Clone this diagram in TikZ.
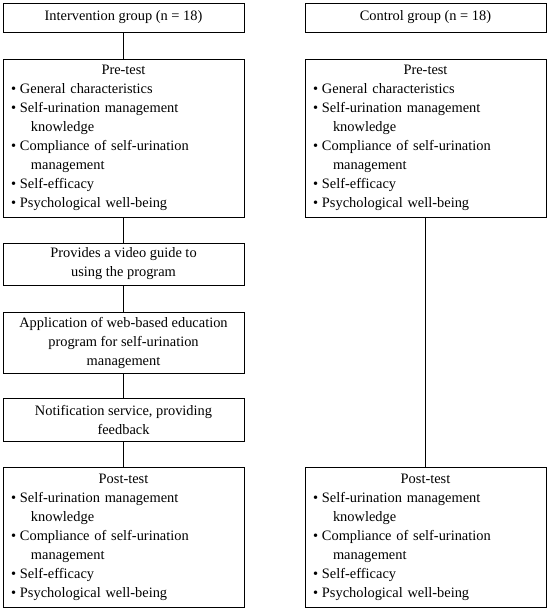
\documentclass[tikz,border=0pt]{standalone}
\usepackage{fontspec}
\setmainfont{Liberation Serif}
\newcommand\myfs{\fontsize{14.4}{19}\selectfont\parindent=0pt\relax}
\newcommand\bl[1]{\makebox[9pt][l]{•}#1}
\newcommand\cont[1]{\hspace*{20pt}#1}
\newcommand\hd[1]{\makebox[225pt]{#1}}
\begin{document}
\begin{tikzpicture}[x=1pt,y=-1pt,
  box/.style={draw, line width=0.8pt, minimum width=241pt, inner sep=0pt, align=center, font=\myfs},
  listbox/.style={box, text width=225pt, align=left},
  conn/.style={draw, line width=0.8pt}]
\useasboundingbox (0,0) rectangle (550,613);
\node[box, minimum height=29pt] (int) at (123.5,17.5) {Intervention group (n = 18)};
\node[box, minimum height=29pt] (ctrl) at (425.5,17.5) {Control group (n = 18)};
\node[listbox, minimum height=158pt] (preL) at (123.5,138) {\hd{Pre-test}\\
\bl{General characteristics}\\
\bl{Self-urination management}\\
\cont{knowledge}\\
\bl{Compliance of self-urination}\\
\cont{management}\\
\bl{Self-efficacy}\\
\bl{Psychological well-being}};
\node[listbox, minimum height=158pt] (preR) at (425.5,138) {\hd{Pre-test}\\
\bl{General characteristics}\\
\bl{Self-urination management}\\
\cont{knowledge}\\
\bl{Compliance of self-urination}\\
\cont{management}\\
\bl{Self-efficacy}\\
\bl{Psychological well-being}};
\node[box, minimum height=42pt] (video) at (123.5,264) {Provides a video guide to\\using the program};
\node[box, minimum height=61pt] (app) at (123.5,342.5) {Application of web-based education\\program for self-urination\\management};
\node[box, minimum height=43pt] (notif) at (123.5,419.5) {Notification service, providing\\feedback};
\node[listbox, minimum height=140pt] (postL) at (123.5,537) {\hd{Post-test}\\
\bl{Self-urination management}\\
\cont{knowledge}\\
\bl{Compliance of self-urination}\\
\cont{management}\\
\bl{Self-efficacy}\\
\bl{Psychological well-being}};
\node[listbox, minimum height=140pt] (postR) at (425.5,537) {\hd{Post-test}\\
\bl{Self-urination management}\\
\cont{knowledge}\\
\bl{Compliance of self-urination}\\
\cont{management}\\
\bl{Self-efficacy}\\
\bl{Psychological well-being}};
\draw[conn] (int.south) -- (preL.north);
\draw[conn] (preL.south) -- (video.north);
\draw[conn] (video.south) -- (app.north);
\draw[conn] (app.south) -- (notif.north);
\draw[conn] (notif.south) -- (postL.north);
\draw[conn] (preR.south) -- (postR.north);
\end{tikzpicture}
\end{document}
